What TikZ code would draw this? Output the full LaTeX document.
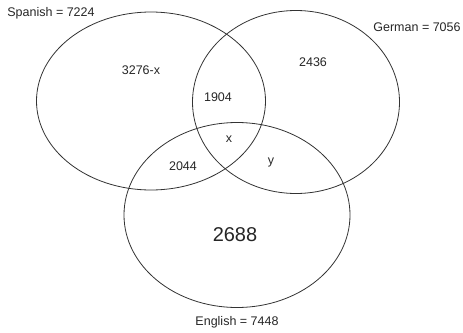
\documentclass[tikz,border=0pt]{standalone}
\usepackage{fontspec}
\setmainfont{Liberation Sans}
\usepackage{tikz}
\usetikzlibrary{shapes.geometric}

\tikzset{set/.style={draw=black!80,ellipse,inner sep=0pt,line width=0.8pt},
  lbl/.style={font=\fontsize{12.5}{14}\selectfont,text=black!85,inner sep=0pt}}

\begin{document}
\begin{tikzpicture}[x=1pt,y=-1pt,line width=0.8pt]

  \useasboundingbox (0,0) rectangle (463,332);

  \node[set,minimum width=229pt,minimum height=178pt] at (151,101) (spanish){};
  \node[set,minimum width=207pt,minimum height=183pt] at (296,102) (german){};
  \node[set,minimum width=226pt,minimum height=185pt] at (237,215) (english){};

  \node[lbl,anchor=west] at (7,13) (sp){Spanish = 7224};
  \node[lbl,anchor=east] at (461,27) (ge){German = 7056};
  \node[lbl] at (237,322) (en){English = 7448};

  \node[lbl] at (141,70) (sonly){3276-x};
  \node[lbl] at (218,97) (sg){1904};
  \node[lbl] at (313,62) (gonly){2436};
  \node[lbl] at (229,139) (sge){x};
  \node[lbl] at (183,166) (se){2044};
  \node[lbl] at (271,162) (ge2){y};
  \node[lbl,font=\fontsize{20}{24}\selectfont] at (235,235) (eonly){2688};

\end{tikzpicture}
\end{document}
